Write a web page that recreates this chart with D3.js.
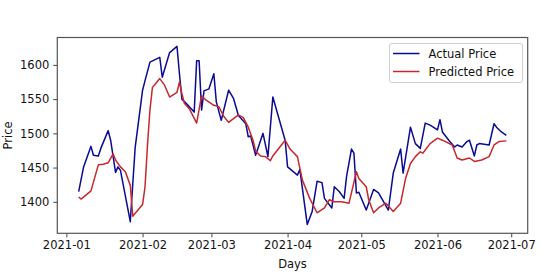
<!DOCTYPE html>
<html>
<head>
<meta charset="utf-8">
<script src="https://cdn.jsdelivr.net/npm/d3@7"></script>
<style>
  body { margin: 0; background: #fff; }
  svg { display: block; font-family: "DejaVu Sans", sans-serif; }
</style>
</head>
<body>
<svg id="chart" width="540" height="272"></svg>
<script>
// values
const actualDates = ['2021-01-06','2021-01-08','2021-01-11','2021-01-12','2021-01-14','2021-01-15','2021-01-18','2021-01-19',
  '2021-01-21','2021-01-22','2021-01-23','2021-01-27','2021-01-29','2021-02-01','2021-02-02','2021-02-04','2021-02-08',
  '2021-02-09','2021-02-12','2021-02-15','2021-02-16','2021-02-17','2021-02-20','2021-02-22','2021-02-23','2021-02-24',
  '2021-02-25','2021-02-26','2021-02-28','2021-03-02','2021-03-03','2021-03-05','2021-03-08','2021-03-10','2021-03-12',
  '2021-03-15','2021-03-16','2021-03-17','2021-03-19','2021-03-22','2021-03-24','2021-03-26','2021-03-31','2021-04-01',
  '2021-04-05','2021-04-06','2021-04-09','2021-04-11','2021-04-13','2021-04-15','2021-04-16','2021-04-19','2021-04-20',
  '2021-04-22','2021-04-24','2021-04-25','2021-04-27','2021-04-28','2021-04-29','2021-04-30','2021-05-03','2021-05-06',
  '2021-05-08','2021-05-12','2021-05-14','2021-05-17','2021-05-18','2021-05-21','2021-05-23','2021-05-25','2021-05-27',
  '2021-05-29','2021-06-01','2021-06-02','2021-06-03','2021-06-06','2021-06-08','2021-06-09','2021-06-11','2021-06-13',
  '2021-06-14','2021-06-16','2021-06-17','2021-06-18','2021-06-22','2021-06-24','2021-06-25','2021-06-27','2021-06-29']
const actualPrice = [1415,1451,1481,1468,1467,1478,1504,1490,
  1443,1451,1446,1371,1480,1563,1577,1604,1611,
  1582,1618,1627,1587,1550,1539,1531,1606,1606,
  1534,1562,1565,1587,1546,1519,1563,1551,1526,
  1514,1495,1496,1468,1500,1466,1553,1490,1451,
  1439,1447,1367,1386,1430,1428,1405,1391,1422,
  1415,1405,1437,1477,1471,1413,1414,1388,1418,
  1413,1388,1442,1477,1442,1509,1485,1478,1515,
  1512,1505,1520,1502,1488,1480,1483,1480,1488,
  1490,1467,1483,1485,1483,1514,1509,1502,1497]

const predDates = ['2021-01-06','2021-01-07','2021-01-11','2021-01-14','2021-01-16','2021-01-18','2021-01-20','2021-01-21',
  '2021-01-23','2021-01-25','2021-01-27','2021-01-28','2021-02-01','2021-02-02','2021-02-03','2021-02-04','2021-02-05',
  '2021-02-08','2021-02-10','2021-02-12','2021-02-15','2021-02-16','2021-02-17','2021-02-18','2021-02-20','2021-02-23',
  '2021-02-25','2021-02-27','2021-03-02','2021-03-04','2021-03-06','2021-03-08','2021-03-12','2021-03-14','2021-03-16',
  '2021-03-18','2021-03-19','2021-03-21','2021-03-23','2021-03-25','2021-03-26','2021-03-31','2021-04-02','2021-04-05',
  '2021-04-07','2021-04-10','2021-04-13','2021-04-16','2021-04-18','2021-04-20','2021-04-23','2021-04-26','2021-04-29',
  '2021-04-30','2021-05-03','2021-05-04','2021-05-06','2021-05-08','2021-05-11','2021-05-14','2021-05-17','2021-05-19',
  '2021-05-21','2021-05-23','2021-05-25','2021-05-26','2021-05-29','2021-06-01','2021-06-03','2021-06-07','2021-06-09',
  '2021-06-11','2021-06-14','2021-06-16','2021-06-19','2021-06-22','2021-06-24','2021-06-26','2021-06-29']
const predPrice = [1407,1404,1416,1454,1455,1457,1470,1461,
  1451,1444,1424,1379,1396,1422,1483,1534,1567,
  1580,1570,1553,1560,1575,1558,1544,1536,1515,
  1555,1548,1541,1539,1525,1516,1527,1523,1509,
  1489,1474,1467,1466,1460,1467,1490,1477,1466,
  1432,1405,1384,1391,1403,1400,1400,1398,1444,
  1434,1422,1403,1384,1391,1398,1386,1398,1434,
  1456,1466,1473,1471,1485,1493,1490,1483,1464,
  1461,1464,1459,1461,1466,1483,1488,1489]

const yTicks = [1400, 1450, 1500, 1550, 1600]
const seriesNames = ['Actual Price', 'Predicted Price']
const seriesColors = ['#0a0a96', '#c8282d']

const svg = d3.select('#chart')
const plotLeft = 57.3, plotRight = 527.7, plotTop = 37.5, plotBottom = 233.3
const parse = d3.timeParse('%Y-%m-%d')

const actual = actualDates.map((d, i) => ({date: parse(d), value: actualPrice[i]}))
const pred = predDates.map((d, i) => ({date: parse(d), value: predPrice[i]}))
const all = actual.concat(pred)

// matplotlib-like 5% margins
const xExt = d3.extent(all, d => +d.date)
const xPad = (xExt[1] - xExt[0]) * 0.05
const yExt = d3.extent(all, d => d.value)
const yPad = (yExt[1] - yExt[0]) * 0.05

const x = d3.scaleTime()
    .domain([new Date(xExt[0] - xPad), new Date(xExt[1] + xPad)])
    .range([plotLeft, plotRight])
const y = d3.scaleLinear()
    .domain([yExt[0] - yPad, yExt[1] + yPad])
    .range([plotBottom, plotTop])

const line = d3.line().x(d => x(d.date)).y(d => y(d.value))

svg.append('path').datum(actual)
    .attr('d', line).attr('fill', 'none')
    .attr('stroke', seriesColors[0]).attr('stroke-width', 1.5)
    .attr('stroke-linejoin', 'round')
svg.append('path').datum(pred)
    .attr('d', line).attr('fill', 'none')
    .attr('stroke', seriesColors[1]).attr('stroke-width', 1.5)
    .attr('stroke-linejoin', 'round')

const xAxis = svg.append('g')
    .attr('transform', `translate(0,${plotBottom})`)
    .call(d3.axisBottom(x).ticks(d3.timeMonth.every(1)).tickFormat(d3.timeFormat('%Y-%m'))
        .tickSizeInner(4).tickSizeOuter(0).tickPadding(4))
const yAxis = svg.append('g')
    .attr('transform', `translate(${plotLeft},0)`)
    .call(d3.axisLeft(y).tickValues(yTicks).tickFormat(d3.format('d'))
        .tickSizeInner(4).tickSizeOuter(0).tickPadding(4))

for (const ax of [xAxis, yAxis]) {
    ax.select('.domain').remove()
    ax.selectAll('line').attr('stroke', '#444').attr('stroke-width', 1)
    ax.selectAll('text').attr('fill', '#111').style('font-size', '11.5px')
        .style('font-family', '"DejaVu Sans", sans-serif')
}

// frame
svg.append('rect')
    .attr('x', plotLeft).attr('y', plotTop)
    .attr('width', plotRight - plotLeft).attr('height', plotBottom - plotTop)
    .attr('fill', 'none').attr('stroke', '#555').attr('stroke-width', 1.2)

svg.append('text')
    .attr('x', (plotLeft + plotRight) / 2).attr('y', 268)
    .attr('text-anchor', 'middle')
    .style('font-size', '11.5px').attr('fill', '#111')
    .text('Days')
svg.append('text')
    .attr('transform', `translate(12,${(plotTop + plotBottom) / 2}) rotate(-90)`)
    .attr('text-anchor', 'middle')
    .style('font-size', '11.5px').attr('fill', '#111')
    .text('Price')

// legend
const legend = svg.append('g').attr('transform', 'translate(389.5,43.5)')
legend.append('rect')
    .attr('width', 133).attr('height', 39).attr('rx', 2.5)
    .attr('fill', '#fff').attr('stroke', '#d0d0d0')
const legendItem = legend.selectAll('g.item')
    .data(seriesNames)
    .enter()
    .append('g')
    .attr('class', 'item')
    .attr('transform', (d, i) => `translate(0,${10 + i * 18})`)
legendItem.append('line')
    .attr('x1', 3.5).attr('x2', 30)
    .attr('stroke', (d, i) => seriesColors[i]).attr('stroke-width', 1.5)
legendItem.append('text')
    .attr('x', 39).attr('dy', '0.35em')
    .style('font-size', '11.5px').attr('fill', '#111')
    .text(d => d)
</script>
</body>
</html>
